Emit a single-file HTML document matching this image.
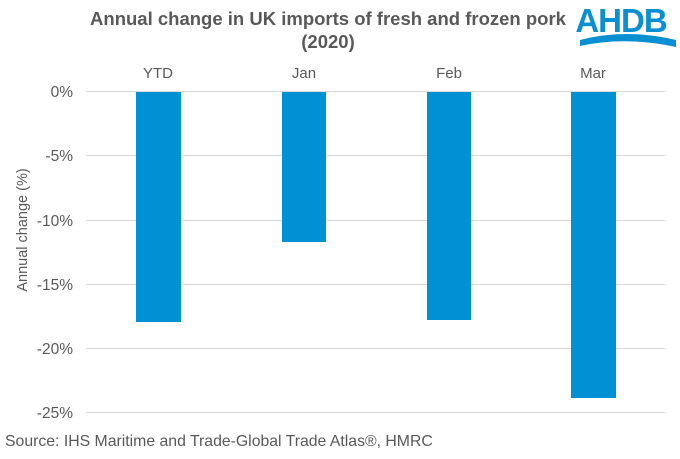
<!DOCTYPE html>
<html><head><meta charset="utf-8"><style>
body{margin:0;background:#fff;}
svg text{font-family:"Liberation Sans",Arial,sans-serif;}
</style></head><body>
<svg width="680" height="454" viewBox="0 0 680 454" xmlns="http://www.w3.org/2000/svg">
<rect width="680" height="454" fill="#fff"/>
<text x="328" y="25" text-anchor="middle" font-size="18.5" font-weight="bold" fill="#595959">Annual change in UK imports of fresh and frozen pork</text>
<text x="328" y="48" text-anchor="middle" font-size="18.5" font-weight="bold" fill="#595959">(2020)</text>
<text x="621" y="32" text-anchor="middle" font-size="33" font-weight="bold" fill="#0a8fd3" letter-spacing="-1">AHDB</text>
<path d="M580 40 Q625 28 676 40 L676 47 Q625 36 580 46 Z" fill="#0a8fd3"/>
<g stroke="#d9d9d9" stroke-width="1">
<line x1="86" y1="91.5" x2="665" y2="91.5"/>
<line x1="86" y1="155.5" x2="665" y2="155.5"/>
<line x1="86" y1="220.5" x2="665" y2="220.5"/>
<line x1="86" y1="284.5" x2="665" y2="284.5"/>
<line x1="86" y1="348.5" x2="665" y2="348.5"/>
<line x1="86" y1="412.5" x2="665" y2="412.5"/>
</g>
<g font-size="15.5" fill="#595959" text-anchor="end">
<text x="73" y="97">0%</text>
<text x="73" y="161">-5%</text>
<text x="73" y="226">-10%</text>
<text x="73" y="290">-15%</text>
<text x="73" y="354">-20%</text>
<text x="73" y="418">-25%</text>
</g>
<text transform="translate(27,230) rotate(-90)" text-anchor="middle" font-size="14.5" fill="#595959">Annual change (%)</text>
<g fill="#0090d4">
<rect x="136" y="92" width="45" height="230"/>
<rect x="282" y="92" width="44" height="150"/>
<rect x="427" y="92" width="44" height="228"/>
<rect x="571" y="92" width="45" height="306"/>
</g>
<g font-size="15" fill="#595959" text-anchor="middle">
<text x="158" y="78">YTD</text>
<text x="304" y="78">Jan</text>
<text x="449" y="78">Feb</text>
<text x="593" y="78">Mar</text>
</g>
<text x="5" y="446" font-size="15.8" fill="#595959">Source: IHS Maritime and Trade-Global Trade Atlas®, HMRC</text>
</svg>
</body></html>
